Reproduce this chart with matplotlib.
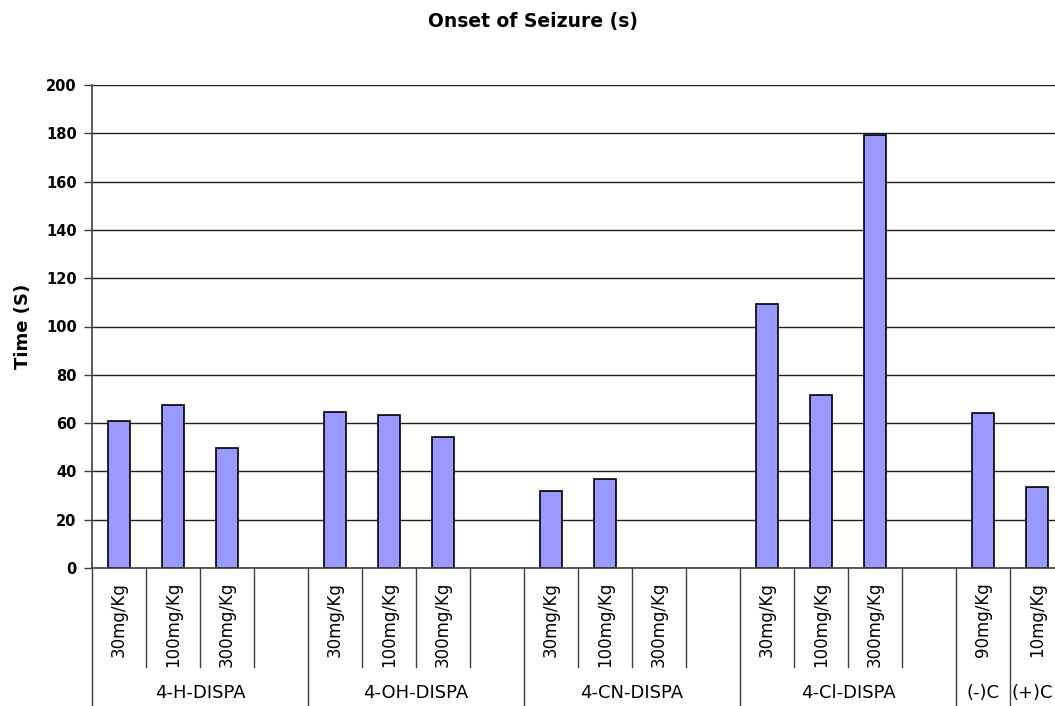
import matplotlib
matplotlib.use("Agg")
import matplotlib.pyplot as plt
import numpy as np

# onset times (s) per compound, one entry per dose slot (None = no bar)
groups = ["4-H-DISPA", "4-OH-DISPA", "4-CN-DISPA", "4-Cl-DISPA", "(-)C", "(+)C"]
doses = [
    ["30mg/Kg", "100mg/Kg", "300mg/Kg", ""],
    ["30mg/Kg", "100mg/Kg", "300mg/Kg", ""],
    ["30mg/Kg", "100mg/Kg", "300mg/Kg", ""],
    ["30mg/Kg", "100mg/Kg", "300mg/Kg", ""],
    ["90mg/Kg"],
    ["10mg/Kg"],
]
values = [
    [61.0, 67.7, 49.8, None],
    [64.8, 63.4, 54.3, None],
    [32.0, 37.0, None, None],
    [109.5, 71.8, 179.5, None],
    [64.2],
    [33.6],
]
yticks = list(range(0, 201, 20))

W, H = 1055, 706
fig = plt.figure(figsize=(W / 100, H / 100), dpi=100)
fig.patch.set_facecolor("white")

# axes in pixel terms: left 92, bottom 568, top 85, slot width 54
ax_left, ax_bottom, ax_top, slot = 92, 568, 85, 54
nslots = sum(len(d) for d in doses)
ax = fig.add_axes([ax_left / W, (H - ax_bottom) / H,
                   nslots * slot / W, (ax_bottom - ax_top) / H])
ax_h = ax_bottom - ax_top

xs, ys = [], []
pos = 0
for gv in values:
    for v in gv:
        if v is not None:
            xs.append(pos + 0.5)
            ys.append(v)
        pos += 1

ax.bar(xs, ys, width=0.41, color="#9999FF", edgecolor="black", linewidth=1.2, zorder=3)

ax.set_xlim(0, nslots)
ax.set_ylim(0, 200)
ax.set_yticks(yticks)
ax.set_yticklabels([str(t) for t in yticks], fontweight="bold", fontsize=10.5)
ax.tick_params(axis="y", direction="out", length=6, width=1, pad=5, color="#404040")
ax.set_xticks([])
ax.grid(axis="y", color="#202020", linewidth=1, zorder=0)
ax.set_axisbelow(True)
for s in ["top", "right"]:
    ax.spines[s].set_visible(False)
for s in ["left", "bottom"]:
    ax.spines[s].set_color("#404040")
    ax.spines[s].set_linewidth(1.2)
    ax.spines[s].set_zorder(4)

ax.set_ylabel("Time (S)", fontweight="bold", fontsize=13)
ax.yaxis.set_label_coords((32 - ax_left) / (nslots * slot), 0.5)

# two-level category axis below the plot
tr = ax.get_xaxis_transform()
def ypx(y):
    return (ax_bottom - y) / ax_h

# the last group sits at the figure edge; centre its label on the visible part
visible_right = (W - ax_left) / slot

pos = 0
for g, dl in zip(groups, doses):
    ax.plot([pos, pos], [0, ypx(H + 2)], transform=tr, color="#404040",
            linewidth=1, clip_on=False)
    for i, d in enumerate(dl):
        if i > 0:
            ax.plot([pos + i, pos + i], [0, ypx(667)], transform=tr, color="#404040",
                    linewidth=1, clip_on=False)
        if d:
            ax.text(pos + i + 0.5, ypx(582), d, transform=tr, rotation=90,
                    ha="center", va="top", fontsize=12)
    gx = (pos + min(pos + len(dl), visible_right)) / 2
    ax.text(gx, ypx(693), g, transform=tr, ha="center",
            va="center", fontsize=13)
    pos += len(dl)
ax.plot([pos, pos], [0, ypx(H + 2)], transform=tr, color="#404040",
        linewidth=1, clip_on=False)

fig.text(533 / W, 1 - 22 / H, "Onset of Seizure (s)", ha="center", va="center",
         fontweight="bold", fontsize=13.5)

fig.savefig("out.png", dpi=100)
